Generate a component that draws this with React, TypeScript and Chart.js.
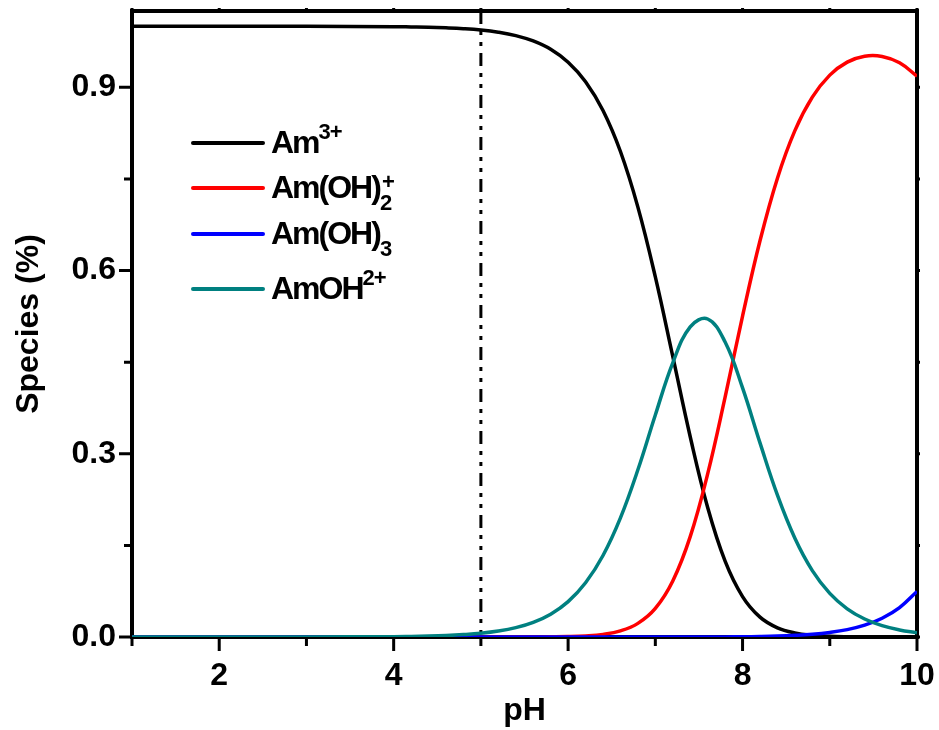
import React, { useEffect, useRef } from "react";
import { Chart, registerables } from "chart.js";

Chart.register(...registerables);

// ---- data ----
const PH = [1, 2, 3, 4.0, 4.2, 4.4, 4.6, 4.8, 5.0, 5.2, 5.4, 5.6, 5.8, 6.0, 6.2, 6.4, 6.6, 6.8, 7.0, 7.2, 7.4, 7.6, 7.8, 8.0, 8.2, 8.4, 8.6, 8.8, 9.0, 9.2, 9.4, 9.6, 9.8, 10.0];

const AM3 = [1.0, 1.0, 0.9999, 0.9994, 0.999, 0.9985, 0.9975, 0.9961, 0.9939, 0.9903, 0.9847, 0.9759, 0.9623, 0.9412, 0.9093, 0.8621, 0.7949, 0.7039, 0.5896, 0.4594, 0.3279, 0.2121, 0.1242, 0.0662, 0.0325, 0.015, 0.0066, 0.0028, 0.0012, 0.0005, 0.0002, 0.0001, 0.0, 0.0];

const AMOH2 = [0, 0, 0, 0, 0, 0, 0, 0, 0, 0, 0, 0.0001, 0.0003, 0.0007, 0.0018, 0.0043, 0.01, 0.0223, 0.0468, 0.0917, 0.1643, 0.2671, 0.3926, 0.5255, 0.6488, 0.7513, 0.8291, 0.8839, 0.92, 0.9413, 0.951, 0.9506, 0.9402, 0.9182];

const AMOH3 = [0, 0, 0, 0, 0, 0, 0, 0, 0, 0, 0, 0, 0, 0, 0, 0, 0, 0, 0, 0, 0, 0.0001, 0.0002, 0.0004, 0.0008, 0.0015, 0.0027, 0.0045, 0.0075, 0.0121, 0.0194, 0.0308, 0.0482, 0.0746];

const AMOH = [0, 0, 0.0001, 0.0006, 0.001, 0.0015, 0.0024, 0.0039, 0.0061, 0.0097, 0.0153, 0.024, 0.0374, 0.058, 0.0889, 0.1335, 0.1951, 0.2738, 0.3636, 0.4489, 0.5078, 0.5207, 0.483, 0.4079, 0.3178, 0.2322, 0.1617, 0.1087, 0.0714, 0.0461, 0.0294, 0.0185, 0.0116, 0.0071];

const SERIES_LABELS = ["Am3+", "Am(OH)2+", "Am(OH)3", "AmOH2+"];
const SERIES_COLORS = ["#000000", "#ff0000", "#0000ff", "#008080"];

const X_MAJOR = [2, 4, 6, 8, 10];
const X_MINOR = [1, 3, 5, 7, 9];
const Y_MAJOR = [0, 0.3, 0.6, 0.9];
const Y_MINOR = [0.15, 0.45, 0.75];
const REF_PH = 5;

// legend text pieces: n = normal, sup = superscript, sub = subscript, stack = superscript above previous subscript
const LEGEND_PARTS: { t: string; k: string }[][] = [
  [{ t: "Am", k: "n" }, { t: "3+", k: "sup" }],
  [{ t: "Am(OH)", k: "n" }, { t: "2", k: "sub" }, { t: "+", k: "stack" }],
  [{ t: "Am(OH)", k: "n" }, { t: "3", k: "sub" }],
  [{ t: "AmOH", k: "n" }, { t: "2+", k: "sup" }],
];

const FAMILY = '"Liberation Sans", Arial, Helvetica, sans-serif';

const decorPlugin = {
  id: "decor",
  beforeDatasetsDraw(chart: any) {
    const { ctx, chartArea, scales } = chart;
    const { left, right, top, bottom } = chartArea;
    ctx.save();
    ctx.strokeStyle = "#000";
    ctx.lineCap = "butt";
    // reference line (dash-dot-dot)
    const x = scales.x.getPixelForValue(REF_PH);
    ctx.lineWidth = 3;
    ctx.setLineDash([13, 7, 4, 7, 4, 7]);
    ctx.beginPath();
    ctx.moveTo(x, top);
    ctx.lineTo(x, bottom);
    ctx.stroke();
    ctx.setLineDash([]);
    // ticks
    ctx.lineWidth = 3;
    const xt = (vals: number[], len: number, topLen: number) => {
      vals.forEach((v) => {
        const px = scales.x.getPixelForValue(v);
        ctx.beginPath();
        ctx.moveTo(px, bottom);
        ctx.lineTo(px, bottom + len);
        ctx.moveTo(px, top);
        ctx.lineTo(px, top - topLen);
        ctx.stroke();
      });
    };
    const yt = (vals: number[], len: number, rLen: number) => {
      vals.forEach((v) => {
        const py = scales.y.getPixelForValue(v);
        ctx.beginPath();
        ctx.moveTo(left, py);
        ctx.lineTo(left - len, py);
        ctx.moveTo(right, py);
        ctx.lineTo(right + rLen, py);
        ctx.stroke();
      });
    };
    xt(X_MAJOR, 14, 3);
    xt(X_MINOR, 9, 3);
    yt(Y_MAJOR, 13, 3);
    yt(Y_MINOR, 8, 3);
    // frame
    ctx.lineWidth = 4;
    ctx.lineJoin = "miter";
    ctx.strokeRect(left, top, right - left, bottom - top);
    ctx.restore();
  },
  afterDraw(chart: any) {
    const { ctx } = chart;
    ctx.save();
    // legend
    const rowsY = [143, 188, 234, 289];
    const lineX0 = 193;
    const lineX1 = 263;
    const textX = 271;
    LEGEND_PARTS.forEach((parts, i) => {
      const y = rowsY[i];
      ctx.strokeStyle = SERIES_COLORS[i];
      ctx.lineWidth = 4;
      ctx.lineCap = "round";
      ctx.beginPath();
      ctx.moveTo(lineX0, y);
      ctx.lineTo(lineX1, y);
      ctx.stroke();
      const base = y + 10;
      let cx = textX;
      let lastX = cx;
      ctx.fillStyle = "#000";
      ctx.textAlign = "left";
      ctx.textBaseline = "alphabetic";
      parts.forEach((p) => {
        if (p.k === "n") {
          ctx.font = `bold 32px ${FAMILY}`;
          (ctx as any).letterSpacing = "-2px";
          ctx.fillText(p.t, cx, base);
          lastX = cx;
          cx += ctx.measureText(p.t).width;
        } else {
          ctx.font = `bold 22px ${FAMILY}`;
          (ctx as any).letterSpacing = "-1px";
          let dy = 0;
          let sx = cx;
          if (p.k === "sup") dy = -14;
          if (p.k === "sub") dy = 12;
          if (p.k === "stack") {
            dy = -9;
            sx = lastX + 2;
          }
          ctx.fillText(p.t, sx, base + dy);
          if (p.k !== "stack") {
            lastX = cx;
            cx += ctx.measureText(p.t).width;
          }
        }
      });
      (ctx as any).letterSpacing = "0px";
    });
    ctx.restore();
  },
};

export default function App() {
  const ref = useRef<HTMLCanvasElement | null>(null);
  useEffect(() => {
    if (!ref.current) return;
    const font = { family: FAMILY, size: 32, weight: "bold" as const };
    const series = [AM3, AMOH2, AMOH3, AMOH];
    const orders = [4, 3, 2, 1];
    const chart = new Chart(ref.current, {
      type: "line",
      data: {
        datasets: series.map((vals, i) => ({
          label: SERIES_LABELS[i],
          data: PH.map((x, j) => ({ x, y: vals[j] })),
          borderColor: SERIES_COLORS[i],
          backgroundColor: SERIES_COLORS[i],
          borderWidth: 3.5,
          pointRadius: 0,
          fill: false,
          tension: 0.4,
          order: orders[i],
        })),
      },
      options: {
        animation: false,
        responsive: false,
        devicePixelRatio: 1,
        layout: { padding: { top: 11, right: 22, left: 0, bottom: 0 } },
        plugins: { legend: { display: false }, tooltip: { enabled: false } },
        scales: {
          x: {
            type: "linear",
            min: 1,
            max: 10,
            grid: { display: false, drawTicks: false },
            border: { display: false },
            ticks: { font, color: "#000", padding: 20, maxRotation: 0 },
            afterBuildTicks: (s: any) => {
              s.ticks = X_MAJOR.map((v) => ({ value: v }));
            },
            afterFit: (s: any) => {
              s.height = 93;
              s.paddingLeft = 0;
              s.paddingRight = 0;
            },
            title: { display: true, text: "pH", font, color: "#000", padding: { top: 0, bottom: 0 } },
          },
          y: {
            type: "linear",
            min: 0,
            max: 1.025,
            grid: { display: false, drawTicks: false },
            border: { display: false },
            ticks: {
              font,
              color: "#000",
              padding: 16,
              callback: (v: any) => Number(v).toFixed(1),
            },
            afterBuildTicks: (s: any) => {
              s.ticks = Y_MAJOR.map((v) => ({ value: v }));
            },
            afterFit: (s: any) => {
              s.width = 132;
              s.paddingTop = 0;
              s.paddingBottom = 0;
            },
            title: { display: true, text: "Species (%)", font, color: "#000", padding: { top: 10, bottom: 0 } },
          },
        },
      },
      plugins: [decorPlugin],
    });
    return () => chart.destroy();
  }, []);
  return (
    <div style={{ position: "absolute", left: 0, top: 0, width: 939, height: 730, background: "#fff" }}>
      <canvas ref={ref} width={939} height={730} style={{ display: "block" }} />
    </div>
  );
}
